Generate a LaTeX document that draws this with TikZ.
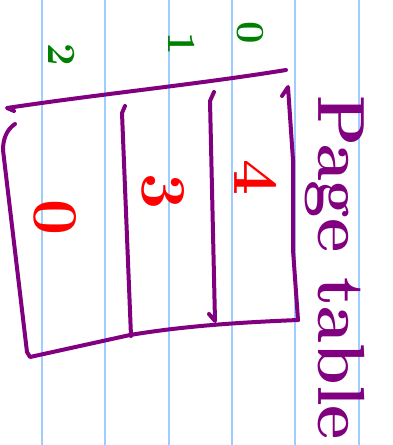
\documentclass[tikz,border=0pt]{standalone}
\usepackage{fontspec}
\usepackage{tikz}
\usepackage{xcolor}
\definecolor{inkpurple}{RGB}{128,0,128}
\definecolor{inkred}{RGB}{255,0,0}
\definecolor{inkgreen}{RGB}{0,128,0}
\definecolor{ruleblue}{RGB}{160,205,255}

\begin{document}
\begin{tikzpicture}[x=0.75pt,y=-0.75pt,
  rule/.style={ruleblue,line width=1.5pt},
  pen/.style={inkpurple,line width=3pt,line cap=round,line join=round},
  bignum/.style={inkred,rotate=-90,inner sep=0pt,font=\fontsize{48}{48}\selectfont\bfseries},
  smallnum/.style={inkgreen,rotate=-90,inner sep=0pt,font=\fontsize{30}{30}\selectfont\bfseries}]
\useasboundingbox (0,0) rectangle (392,445);
\fill[white] (0,0) rectangle (392,445);
\foreach \x in {41.5,105,168.5,232,295,358.5}
  \draw[rule] (\x,0) -- (\x,445);
\draw[pen] (14,111) -- (7,108) .. controls (100,94) and (200,84) .. (286,70);
\draw[pen] (15,124) .. controls (6,130) and (3,140) .. (3,150) -- (27,352) -- (30,357) -- (130,335) .. controls (190,325) and (250,322) .. (298,320);
\draw[pen] (125,106) -- (122,113) -- (131,336);
\draw[pen] (214,92) -- (210,101) -- (215,321) -- (209,314);
\draw[pen] (282,96) -- (288,87) -- (293,160) -- (293,250) -- (298,320);
\node[bignum] (zero) at (55,218) {0};
\node[bignum] (three) at (163,192) {3};
\node[bignum] (four) at (256,178) {4};
\node[smallnum] (two) at (62,55) {2};
\node[smallnum] (one) at (182,44) {1};
\node[smallnum] (nought) at (250,33) {0};
\node[inkpurple,rotate=-90,anchor=base west,inner sep=0pt,font=\fontsize{50}{50}\selectfont\bfseries] (ptable) at (318,95) {Page table};
\end{tikzpicture}
\end{document}
